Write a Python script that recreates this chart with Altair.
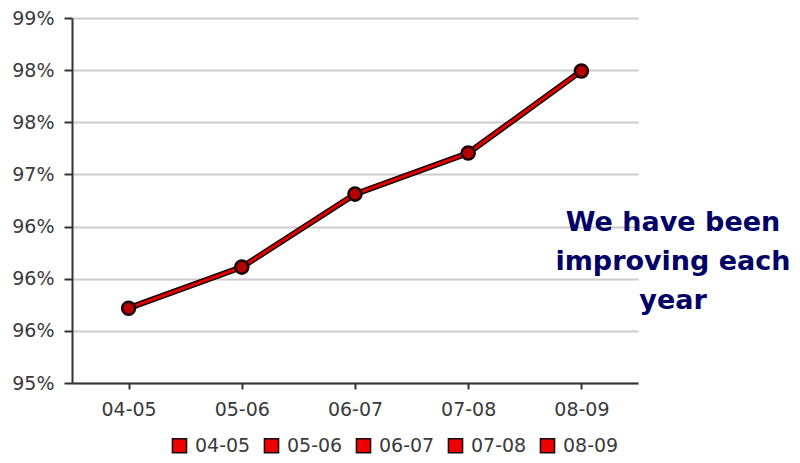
import altair as alt
import pandas as pd

periods = ["04-05", "05-06", "06-07", "07-08", "08-09"]
values = [95.82, 96.27, 97.07, 97.52, 98.42]
y_tick_values = [95 + i * 4 / 7 for i in range(8)]
y_tick_labels = ["95%", "96%", "96%", "96%", "97%", "98%", "98%", "99%"]
note_lines = ["We have been", "improving each", "year"]

df = pd.DataFrame({"period": periods, "value": values})

FONT = "DejaVu Sans"
label_arr = "[" + ",".join("'%s'" % s for s in y_tick_labels) + "]"
label_expr = label_arr + "[round((datum.value - 95) * 7 / 4)]"

x_enc = alt.X("period:N", sort=periods, title=None,
              scale=alt.Scale(type="point", padding=0.5),
              axis=alt.Axis(labelAngle=0, labelFont=FONT, labelFontSize=19,
                            labelColor="#3a3a3a", domainColor="#333333",
                            tickColor="#333333", tickSize=6, labelPadding=11,
                            grid=False, domainWidth=2, tickWidth=2))
y_enc = alt.Y("value:Q", title=None,
              scale=alt.Scale(domain=[95, 99], nice=False, zero=False),
              axis=alt.Axis(values=y_tick_values, labelExpr=label_expr,
                            labelFont=FONT, labelFontSize=19, labelColor="#3a3a3a",
                            domainColor="#333333", tickColor="#333333",
                            tickSize=8, labelPadding=10, domainWidth=2, tickWidth=2,
                            grid=True, gridColor="#cccccc", gridWidth=2))

base = alt.Chart(df)

line_bg = base.mark_line(color="#1a0000", strokeWidth=6).encode(x=x_enc, y=y_enc)
line_fg = base.mark_line(color="#e00000", strokeWidth=3).encode(x=x_enc, y=y_enc)
pts = base.mark_point(shape="circle", filled=True, fill="#b80000", stroke="#1a0000",
                      strokeWidth=2.5, size=170, opacity=1).encode(x=x_enc, y=y_enc)

legend_layer = base.mark_square(opacity=0, size=10).encode(
    x=x_enc, y=y_enc,
    color=alt.Color("period:N", sort=periods,
                    scale=alt.Scale(domain=periods, range=["#ee0000"] * len(periods)),
                    legend=alt.Legend(title=None, orient="none", direction="horizontal",
                                      legendX=98, legendY=418,
                                      symbolType="square", symbolSize=200,
                                      symbolOpacity=1, symbolFillColor="#ee0000",
                                      symbolStrokeColor="#111111", symbolStrokeWidth=1.5,
                                      labelFont=FONT, labelFontSize=19,
                                      labelColor="#3a3a3a", columnPadding=10,
                                      symbolOffset=0, labelOffset=6))
)

note = alt.Chart(pd.DataFrame({"t": [note_lines]})).mark_text(
    font=FONT, fontSize=27, fontWeight="bold", color="#000066",
    align="center", baseline="middle", lineHeight=39
).encode(x=alt.value(601), y=alt.value(205), text="t")

chart = alt.layer(line_bg, line_fg, pts, legend_layer, note).properties(
    width=566, height=365,
    autosize=alt.AutoSizeParams(type="none"),
    padding={"left": 64, "top": 10, "right": 154, "bottom": 72},
).configure(background="white").configure_view(stroke=None)

chart.save("out.html", embed_options={"renderer": "svg", "actions": False})
